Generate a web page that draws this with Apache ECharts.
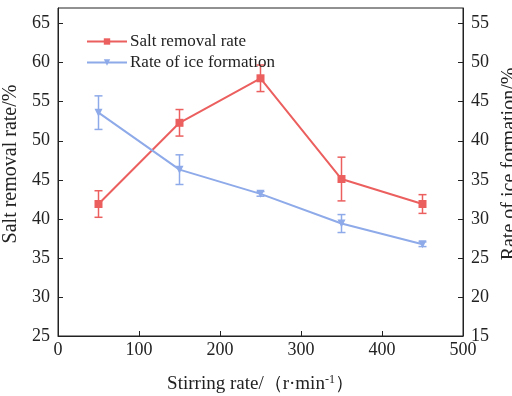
<!DOCTYPE html>
<html>
<head>
<meta charset="utf-8">
<script src="https://cdn.jsdelivr.net/npm/echarts@6/dist/echarts.min.js"></script>
<style>
    html, body { margin: 0; padding: 0; background: #fff; }
    #chart { width: 512px; height: 396px; }
</style>
</head>
<body>
<div id="chart"></div>
<script>
    // stirring rate (r/min)
    var stirRates = [50, 150, 250, 350, 450];
    // salt removal rate (%) and its error
    var saltRate = [41.9, 52.3, 58.0, 45.1, 41.9];
    var saltErr = [1.7, 1.7, 1.7, 2.8, 1.2];
    // ice formation rate (%) and its error
    var iceRate = [43.6, 36.3, 33.2, 29.4, 26.75];
    var iceErr = [2.15, 1.9, 0.3, 1.15, 0.3];

    var legendNames = ["Salt removal rate", "Rate of ice formation"];
    var redColor = "#ec5f5f";
    var blueColor = "#8eaae9";
    var fontFam = "Liberation Serif";

    function pairs(xs, ys) {
        return xs.map(function (x, i) { return [x, ys[i]]; });
    }
    function errData(xs, ys, es) {
        return xs.map(function (x, i) { return [x, ys[i] - es[i], ys[i] + es[i]]; });
    }
    function errorBar(color) {
        return function (params, api) {
            var x = api.value(0);
            var lo = api.coord([x, api.value(1)]);
            var hi = api.coord([x, api.value(2)]);
            var w = 4;
            var style = { stroke: color, lineWidth: 1.5 };
            return {
                type: "group",
                children: [
                    { type: "line", shape: { x1: lo[0], y1: lo[1], x2: hi[0], y2: hi[1] }, style: style },
                    { type: "line", shape: { x1: lo[0] - w, y1: lo[1], x2: lo[0] + w, y2: lo[1] }, style: style },
                    { type: "line", shape: { x1: hi[0] - w, y1: hi[1], x2: hi[0] + w, y2: hi[1] }, style: style }
                ]
            };
        };
    }

    var chart = echarts.init(document.getElementById("chart"));
    var axisCommon = {
        axisLine: { show: true, lineStyle: { color: "#222", width: 1 } },
        axisTick: { show: true, inside: true, length: 5, lineStyle: { color: "#222" } },
        axisLabel: { color: "#222", fontSize: 18, fontFamily: fontFam, showMaxLabel: false },
        splitLine: { show: false }
    };
    var option = {
        animation: false,
        textStyle: { fontFamily: fontFam },
        grid: {
            left: 58, right: 49, top: 8, bottom: 60,
            outerBoundsMode: "none",
            containLabel: false,
            show: true, borderColor: "#222", borderWidth: 1
        },
        legend: {
            left: 81,
            top: 28,
            orient: "vertical",
            itemGap: 4,
            itemWidth: 40,
            itemHeight: 8,
            data: legendNames,
            textStyle: { color: "#222", fontSize: 17, fontFamily: fontFam, padding: [0, 0, 0, -2] }
        },
        xAxis: Object.assign({}, axisCommon, {
            type: "value",
            min: 0,
            max: 500,
            interval: 100,
            axisLabel: { color: "#222", fontSize: 18, fontFamily: fontFam, margin: 5 },
            name: "{t|Stirring rate/（r·min}{s|-1}{t|）}",
            nameLocation: "middle",
            nameGap: 38,
            nameTextStyle: {
                rich: {
                    t: { fontSize: 19, fontFamily: fontFam, color: "#222" },
                    s: { fontSize: 12, fontFamily: fontFam, color: "#222", verticalAlign: "top", padding: [0, 0, 8, 0] }
                }
            }
        }),
        yAxis: [
            Object.assign({}, axisCommon, {
                type: "value",
                min: 25,
                max: 67,
                interval: 5,
                name: "Salt removal rate/%",
                nameLocation: "middle",
                nameGap: 31,
                nameTextStyle: { fontSize: 20, fontFamily: fontFam, color: "#222", padding: [0, 0, 0, 16] }
            }),
            Object.assign({}, axisCommon, {
                type: "value",
                position: "right",
                min: 15,
                max: 57,
                interval: 5,
                name: "Rate of ice formation/%",
                nameLocation: "middle",
                nameRotate: 90,
                nameGap: 33,
                nameTextStyle: { fontSize: 20, fontFamily: fontFam, color: "#222", padding: [0, 0, 0, 16] }
            })
        ],
        series: [
            {
                name: legendNames[0],
                type: "line",
                yAxisIndex: 0,
                data: pairs(stirRates, saltRate),
                symbol: "rect",
                symbolSize: 8,
                lineStyle: { color: redColor, width: 2 },
                itemStyle: { color: redColor },
                z: 3
            },
            {
                name: legendNames[1],
                type: "line",
                yAxisIndex: 1,
                data: pairs(stirRates, iceRate),
                symbol: "triangle",
                symbolRotate: 180,
                symbolSize: 8,
                lineStyle: { color: blueColor, width: 2 },
                itemStyle: { color: blueColor },
                z: 3
            },
            {
                type: "custom",
                yAxisIndex: 0,
                data: errData(stirRates, saltRate, saltErr),
                renderItem: errorBar(redColor),
                encode: { x: 0, y: [1, 2] },
                z: 2
            },
            {
                type: "custom",
                yAxisIndex: 1,
                data: errData(stirRates, iceRate, iceErr),
                renderItem: errorBar(blueColor),
                encode: { x: 0, y: [1, 2] },
                z: 2
            }
        ]
    };
    chart.setOption(option);
</script>
</body>
</html>
